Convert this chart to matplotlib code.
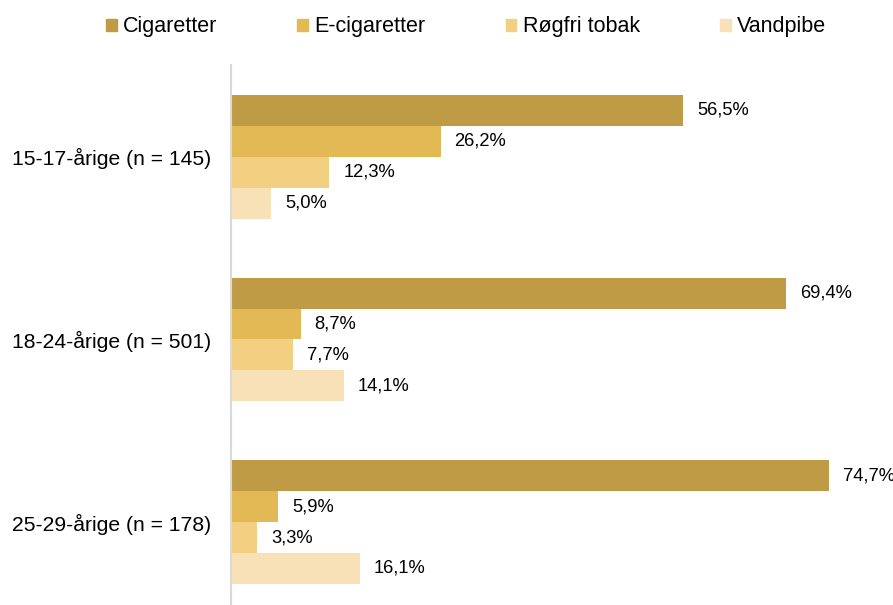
import matplotlib.pyplot as plt
import numpy as np
from matplotlib.patches import Patch

plt.rcParams['font.family'] = ['Liberation Sans', 'DejaVu Sans']

groups = ["15-17-årige (n = 145)", "18-24-årige (n = 501)", "25-29-årige (n = 178)"]
series = ["Cigaretter", "E-cigaretter", "Røgfri tobak", "Vandpibe"]
cigaretter = [56.5, 69.4, 74.7]
e_cigaretter = [26.2, 8.7, 5.9]
roegfri = [12.3, 7.7, 3.3]
vandpibe = [5.0, 14.1, 16.1]
colors = ["#BF9B45", "#E2B955", "#F3CF82", "#F8E1B7"]

values = [cigaretter, e_cigaretter, roegfri, vandpibe]

fig = plt.figure(figsize=(8.93, 6.05), dpi=100)
ax = fig.add_axes([231 / 893, 0, 1 - 231 / 893, 540 / 605])

y = np.arange(len(groups))
h = 31 / 183
for i, (vals, col) in enumerate(zip(values, colors)):
    pos = y + (i - 1.5) * h
    ax.barh(pos, vals, height=h, color=col)
    for p, v in zip(pos, vals):
        ax.text(v + 1.75, p, f"{v:.1f}%".replace(".", ","), va="center", ha="left", fontsize=13.2)

ax.set_xlim(0, (893 - 231) / 8.0)
ax.set_ylim(2.454, -0.503)
ax.set_yticks(y)
ax.set_yticklabels(groups, fontsize=15.2)
ax.tick_params(axis="y", length=0, pad=14)
ax.set_xticks([])
for s in ["top", "right", "bottom"]:
    ax.spines[s].set_visible(False)
ax.spines["left"].set_color("#D9D9D9")
ax.spines["left"].set_linewidth(1.5)

handles = [Patch(color=c, label=s) for s, c in zip(series, colors)]
fig.legend(handles=handles, loc="upper center", bbox_to_anchor=(0.522, 1.005), ncol=4,
           frameon=False, fontsize=15.5, handlelength=0.5, handleheight=0.5,
           handletextpad=0.3, columnspacing=3.71)

fig.savefig("out.png", dpi=100)
